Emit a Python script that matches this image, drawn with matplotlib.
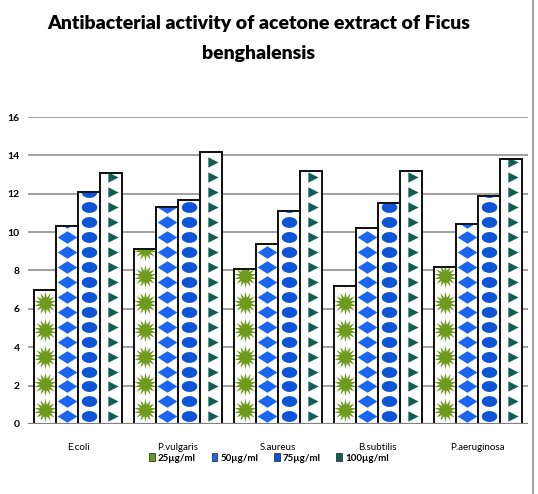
import matplotlib
matplotlib.use("Agg")
import matplotlib.pyplot as plt
import numpy as np
from matplotlib.path import Path
from matplotlib.patches import Patch

categories = ["E.coli", "P.vulgaris", "S.aureus", "B.subtilis", "P.aeruginosa"]
series_names = ["25µg/ml", "50µg/ml", "75µg/ml", "100µg/ml"]
v25 = [7.0, 9.1, 8.1, 7.2, 8.2]
v50 = [10.3, 11.3, 9.4, 10.2, 10.4]
v75 = [12.1, 11.7, 11.1, 11.5, 11.9]
v100 = [13.1, 14.2, 13.2, 13.2, 13.8]
yticks = [0, 2, 4, 6, 8, 10, 12, 14, 16]
title = "Antibacterial activity of acetone extract of Ficus\nbenghalensis"

narrow = ["Lato", "DejaVu Sans"]

# marker shapes
diamond = Path([(0, 0.32), (0.5, 0), (0, -0.32), (-0.5, 0), (0, 0.32)],
               [Path.MOVETO, Path.LINETO, Path.LINETO, Path.LINETO, Path.CLOSEPOLY])
t = np.linspace(0, 2 * np.pi, 40)
ell = Path(np.column_stack([0.5 * np.cos(t), 0.35 * np.sin(t)]), closed=True)

styles = [
    dict(color="#6e9a1e", marker=(14, 1, 0), size=280, step=1.4, dx=0.0, off=0.7),
    dict(color="#1a66f2", marker=diamond, size=200, step=0.78, dx=0.0, off=0.39),
    dict(color="#0d55d6", marker=ell, size=125, step=0.78, dx=0.0, off=0.39),
    dict(color="#105f52", marker=">", size=55, step=0.78, dx=0.02, off=0.39),
]

fig = plt.figure(figsize=(5.38, 4.94), dpi=100)
ax = fig.add_axes([0.052, 0.142, 0.929, 0.621])

x = np.arange(len(categories))
w = 0.22
data = [v25, v50, v75, v100]
for i, (vals, st) in enumerate(zip(data, styles)):
    pos = x + (i - 1.5) * w
    bars = ax.bar(pos, vals, width=w, facecolor="white", edgecolor="#111111",
                  linewidth=1.3, zorder=3)
    for b, px, v in zip(bars, pos, vals):
        ys = np.arange(st["off"], v + st["step"], st["step"])
        sc = ax.scatter(np.full(len(ys), px + st["dx"]), ys, marker=st["marker"],
                        s=st["size"], color=st["color"], linewidths=0, zorder=4)
        sc.set_clip_path(b)
    ax.bar(pos, vals, width=w, facecolor="none", edgecolor="#111111",
           linewidth=1.3, zorder=5)

ax.set_xlim(-0.5, 4.5)
ax.set_ylim(0, 16)
ax.set_yticks(yticks)
ax.set_yticklabels([str(v) for v in yticks], fontsize=7.5, fontweight="bold",
                   family=narrow)
ax.set_xticks(x)
ax.set_xticklabels(categories, fontsize=7, family=narrow)
ax.tick_params(axis="x", length=0, pad=14)
ax.tick_params(axis="y", length=0, pad=6)
ax.yaxis.grid(True, color="#a0a0a0", linewidth=1.4, zorder=0)
for s in ax.spines.values():
    s.set_visible(False)
ax.axhline(0, color="#808080", linewidth=1.6, zorder=6)

fig.suptitle(title, fontsize=14, fontweight="heavy", family=narrow,
             x=0.48, y=0.97, linespacing=1.95)

handles = [Patch(facecolor=st["color"], edgecolor="#333333", linewidth=0.6)
           for st in styles]
fig.legend(handles, series_names, loc="center", bbox_to_anchor=(0.5, 0.073),
           ncol=4, frameon=False, prop=dict(family=narrow, size=7, weight="bold"),
           handlelength=0.6, handleheight=0.9, handletextpad=0.3, columnspacing=1.6)

fig.add_artist(plt.Line2D([0.991, 0.991], [0.0, 1.0], color="#909090",
                          linewidth=1.2, transform=fig.transFigure))

fig.savefig("out.png", dpi=100)
